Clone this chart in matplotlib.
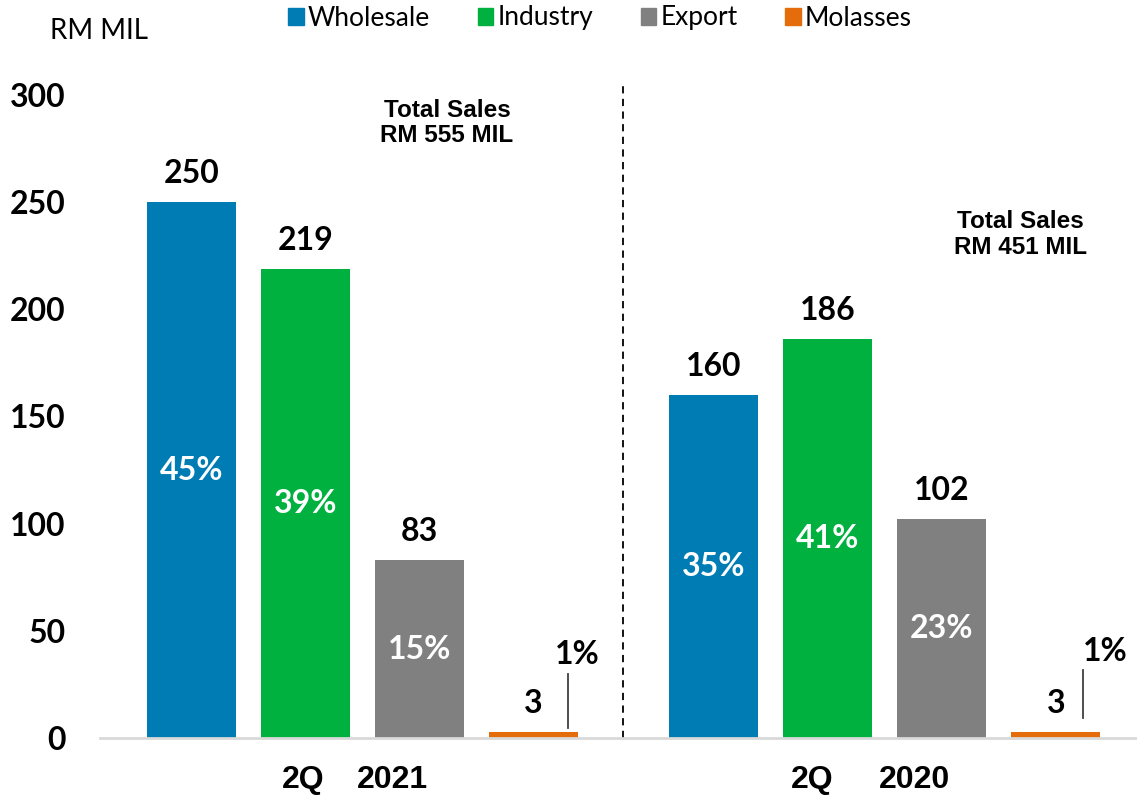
import matplotlib.pyplot as plt

# data
segments = ['Wholesale', 'Industry', 'Export', 'Molasses']
colors = ['#007CB4', '#00B140', '#808080', '#E46C0A']
periods = ['2021', '2020']
sales_2021 = [250, 219, 83, 3]
sales_2020 = [160, 186, 102, 3]
share_2021 = ['45%', '39%', '15%', '1%']
share_2020 = ['35%', '41%', '23%', '1%']
totals = ['RM 555 MIL', 'RM 451 MIL']
yticks = [0, 50, 100, 150, 200, 250, 300]

CAL = ['Lato', 'DejaVu Sans']
ARI = ['Liberation Sans', 'DejaVu Sans']


def main():
    fig = plt.figure(figsize=(11.37, 7.99), dpi=100)
    ax = fig.add_axes([100/1137, 61/799, 1 - 100/1137, 643/799])

    offsets = [0.0, 4.579]
    width = 0.78
    groups = [(sales_2021, share_2021), (sales_2020, share_2020)]

    for g, (vals, shares) in enumerate(groups):
        xs = [offsets[g] + i for i in range(len(vals))]
        ax.bar(xs, vals, width=width, color=colors, zorder=2)
        for i, (x, v, s) in enumerate(zip(xs, vals, shares)):
            ax.annotate(str(v), (x, v), xytext=(0, 10),
                        textcoords='offset points', ha='center', va='bottom',
                        fontsize=23, fontweight='bold', family=CAL)
            if i < 3:
                ax.text(x, v / 2, s, ha='center', va='center', color='white',
                        fontsize=23, fontweight='bold', family=CAL)

    # small molasses share callouts
    for (lx, y0, y1, tx, ty), s in zip(
            [(3.303, 4.7, 30.0, 3.38, 38.8), (7.82, 9.4, 31.8, 8.01, 40.2)],
            [share_2021[3], share_2020[3]]):
        ax.plot([lx, lx], [y0, y1], color='#404040', lw=1.3, zorder=3)
        ax.text(tx, ty, s, ha='center', va='center', fontsize=23,
                fontweight='bold', family=CAL)

    # total sales
    for (tx, ty), t in zip([(2.24, 287), (7.27, 235)], totals):
        ax.text(tx, ty, 'Total Sales\n' + t, ha='center', va='center',
                fontsize=17.5, fontweight='bold', family=ARI,
                linespacing=1.15)

    # period labels
    for (qx, yx), p in zip([(0.98, 1.76), (5.44, 6.34)], periods):
        ax.text(qx, -19.7, '2Q', ha='center', va='center', fontsize=23,
                fontweight='bold', family=ARI, clip_on=False)
        ax.text(yx, -19.7, p, ha='center', va='center', fontsize=23,
                fontweight='bold', family=ARI, clip_on=False)

    # divider
    ax.plot([3.785, 3.785], [0, 305.6], color='black', lw=1.3,
            ls=(0, (4, 3)), clip_on=False, zorder=1)

    # axes properties
    ax.set_xlim(-0.803, 8.29)
    ax.set_ylim(0, 300)
    ax.set_xticks([])
    ax.set_yticks(yticks)
    ax.set_yticklabels([str(t) for t in yticks], fontsize=23,
                       fontweight='bold', family=CAL)
    ax.tick_params(axis='y', length=0, pad=25)
    for side in ('top', 'right', 'left'):
        ax.spines[side].set_visible(False)
    ax.spines['bottom'].set_color('#D9D9D9')
    ax.spines['bottom'].set_linewidth(2)

    fig.text(50/1137, 1 - 31/799, 'RM MIL', ha='left', va='center',
             fontsize=20, family=CAL)

    handles = [plt.Rectangle((0, 0), 1, 1, color=c) for c in colors]
    fig.legend(handles, segments, loc='center', ncol=4,
               bbox_to_anchor=(600/1137, 1 - 18/799), frameon=False,
               prop={'family': CAL, 'size': 19}, handlelength=0.6,
               handleheight=0.6, handletextpad=0.15, columnspacing=1.8,
               borderaxespad=0)

    fig.savefig('out.png', dpi=100)


if __name__ == '__main__':
    main()
